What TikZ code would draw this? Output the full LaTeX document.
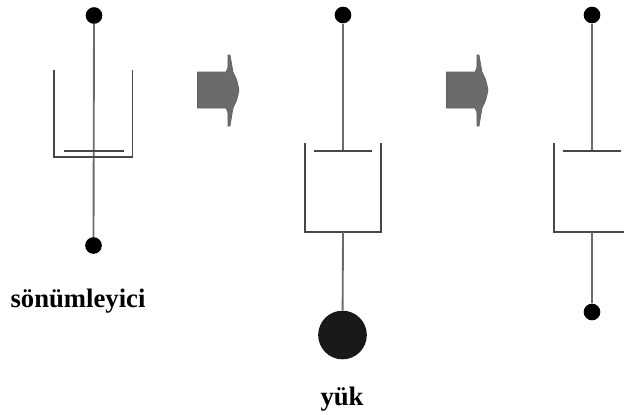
\documentclass[tikz,border=0pt]{standalone}
\usepackage{fontspec}
\setmainfont{Liberation Serif}
\tikzset{
  px/.style={x=0.75pt,y=-0.75pt},
  wire/.style={draw=black!58,line width=1.4pt},
  wall/.style={draw=black!72,line width=1.4pt},
  pin/.style={circle,fill=black,inner sep=0pt,minimum size=12.5pt},
  load/.style={circle,fill=black!90,inner sep=0pt,minimum size=36.5pt},
  lbl/.style={font=\bfseries\fontsize{20pt}{22pt}\selectfont,inner sep=0pt,anchor=base},
  arrowshape/.style={fill=black!58,draw=black!62,line width=0.5pt}
}
\newcommand{\blockarrow}[1]{%
  \draw[arrowshape,shift={(#1,0)}] (197.5,72) -- (226,72) .. controls (228,70) .. (228,55) -- (230,55) -- (233,72) .. controls (237,80) .. (239,90) .. controls (237,100) .. (233,108) -- (230,126) -- (228,126) .. controls (228,110) .. (226,108) -- (197.5,108) -- cycle;}
\begin{document}
\begin{tikzpicture}[px]
\useasboundingbox (0,0) rectangle (624,414);
% damper 1
\node[pin] (a1) at (94,15.5) {};
\node[pin] (b1) at (93.5,245.5) {};
\draw[wire] (a1) -- (b1);
\draw[wall] (54,70) -- (54,157) -- (132.5,157) -- (132.5,70);
\draw[wall] (64,151) -- (124,151);
\node[lbl] (t1) at (78,307.5) {sönümleyici};
% arrow 1
\blockarrow{0}
% damper 2
\node[pin] (a2) at (343,15) {};
\node[load] (b2) at (342.5,335) {};
\draw[wire] (a2) -- (343,151);
\draw[wall] (305,143) -- (305,232) -- (381,232) -- (381,143);
\draw[wall] (313.5,151) -- (372,151);
\draw[wire] (343,232) -- (b2);
\node[lbl] (t2) at (342,405) {yük};
% arrow 2
\blockarrow{249}
% damper 3
\node[pin] (a3) at (592,15) {};
\node[pin] (b3) at (592,312) {};
\draw[wire] (a3) -- (592,151);
\draw[wall] (554,143) -- (554,232) -- (632,232);
\draw[wall] (562.5,151) -- (621,151);
\draw[wire] (592,232) -- (b3);
\end{tikzpicture}
\end{document}
